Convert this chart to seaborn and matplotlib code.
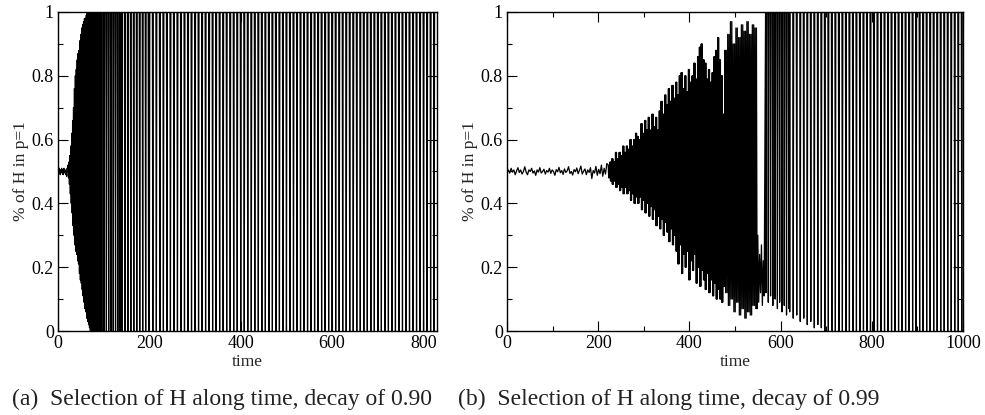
import numpy as np
import pandas as pd
import matplotlib
matplotlib.use('Agg')
import matplotlib.pyplot as plt
import seaborn as sns
from matplotlib.ticker import MultipleLocator, FuncFormatter

sns.set_theme(style='ticks')
plt.rcParams['font.family'] = ['Liberation Serif', 'DejaVu Serif']

# ---------------- panel (a): decay 0.90 ----------------
a_noise_t = np.arange(0, 22)
a_noise_v = [0.50, 0.505, 0.495, 0.51, 0.50, 0.49, 0.505, 0.50, 0.51, 0.495, 0.505,
             0.49, 0.50, 0.51, 0.50, 0.495, 0.505, 0.49, 0.50, 0.485, 0.51, 0.50]

# growing oscillation: peak at t, trough one step later
a_grow_t = np.arange(22, 70, 2)
a_grow_hi = [0.52, 0.53, 0.55, 0.58, 0.62, 0.66, 0.70, 0.76,
             0.80, 0.82, 0.85, 0.87, 0.88, 0.91, 0.93, 0.95,
             0.96, 0.97, 0.98, 0.98, 0.99, 1.00, 1.00, 1.00]
a_grow_lo = [0.48, 0.46, 0.43, 0.40, 0.37, 0.33, 0.30, 0.27,
             0.25, 0.24, 0.22, 0.21, 0.18, 0.16, 0.15, 0.13,
             0.11, 0.09, 0.07, 0.06, 0.04, 0.03, 0.02, 0.01]

a_dense_t = np.arange(70, 94, 2)
a_dense_hi = [1.0] * len(a_dense_t)
a_dense_lo = [0.0] * len(a_dense_t)

# regular full swings (drops from 1 to 0)
a_spike_t = np.r_[np.arange(96, 140, 5), np.arange(140, 200, 6.5), np.arange(200, 830, 7.7)]
a_spike_hi = [1.0] * len(a_spike_t)
a_spike_lo = [0.0] * len(a_spike_t)

# ---------------- panel (b): decay 0.99 ----------------
b_noise_t = np.arange(0, 222, 3)
b_noise_v = [0.500, 0.505, 0.495, 0.510, 0.498, 0.505, 0.490, 0.502, 0.512, 0.497,
             0.505, 0.492, 0.500, 0.515, 0.498, 0.490, 0.505, 0.500, 0.510, 0.495,
             0.502, 0.488, 0.505, 0.498, 0.512, 0.495, 0.500, 0.507, 0.492, 0.503,
             0.498, 0.510, 0.494, 0.505, 0.500, 0.488, 0.506, 0.499, 0.513, 0.496,
             0.503, 0.491, 0.508, 0.497, 0.502, 0.515, 0.494, 0.500, 0.489, 0.506,
             0.499, 0.511, 0.493, 0.504, 0.517, 0.492, 0.501, 0.508, 0.490, 0.505,
             0.497, 0.512, 0.478, 0.503, 0.495, 0.516, 0.488, 0.507, 0.493, 0.520,
             0.485, 0.510, 0.492, 0.525]

b_grow_t = np.arange(222, 478, 4)
b_grow_hi = [0.52, 0.53, 0.54, 0.53, 0.56, 0.54, 0.56, 0.55,
             0.58, 0.56, 0.58, 0.57, 0.60, 0.58, 0.60, 0.62,
             0.61, 0.60, 0.65, 0.62, 0.66, 0.63, 0.67, 0.63,
             0.68, 0.64, 0.67, 0.63, 0.69, 0.72, 0.68, 0.74,
             0.71, 0.76, 0.72, 0.77, 0.73, 0.78, 0.74, 0.80,
             0.81, 0.76, 0.80, 0.75, 0.82, 0.78, 0.80, 0.84,
             0.79, 0.86, 0.89, 0.90, 0.85, 0.84, 0.79, 0.82,
             0.78, 0.81, 0.86, 0.88, 0.92, 0.85, 0.80, 0.68]
b_grow_lo = [0.48, 0.47, 0.46, 0.47, 0.45, 0.46, 0.44, 0.45,
             0.43, 0.45, 0.43, 0.44, 0.41, 0.43, 0.40, 0.42,
             0.40, 0.42, 0.38, 0.41, 0.37, 0.40, 0.36, 0.39,
             0.35, 0.38, 0.33, 0.36, 0.32, 0.35, 0.30, 0.34,
             0.31, 0.28, 0.32, 0.27, 0.30, 0.25, 0.21, 0.27,
             0.18, 0.24, 0.20, 0.25, 0.16, 0.22, 0.19, 0.24,
             0.15, 0.20, 0.14, 0.19, 0.16, 0.13, 0.18, 0.12,
             0.16, 0.11, 0.15, 0.10, 0.13, 0.10, 0.09, 0.14]

b_burst_t = np.arange(478, 548, 6)
b_burst_hi = [0.88, 0.93, 0.97, 0.90, 0.95, 0.92, 0.96, 0.94, 0.97, 0.93, 0.96, 0.95]
b_burst_lo = [0.12, 0.08, 0.10, 0.06, 0.09, 0.05, 0.07, 0.04, 0.06, 0.05, 0.08, 0.07]

b_gap_t = np.arange(550, 566, 4)
b_gap_hi = [0.30, 0.24, 0.27, 0.22]
b_gap_lo = [0.09, 0.12, 0.08, 0.11]

b_spike_t = np.r_[np.arange(568, 620, 5), np.arange(620, 1000, 7.7)]
b_spike_hi = [1.0] * len(b_spike_t)
b_spike_lo = [0.12, 0.09, 0.11, 0.08, 0.10, 0.07, 0.09, 0.06, 0.08, 0.05, 0.07,
              0.06, 0.04, 0.05, 0.03, 0.04, 0.02, 0.03, 0.01, 0.02, 0.01] + [0.0] * 40

captions = ['(a)  Selection of H along time, decay of 0.90',
            '(b)  Selection of H along time, decay of 0.99']


def zigzag(t, hi, lo, half, reps=1):
    # each listed swing is drawn 'reps' times in a row (fast oscillation)
    tt, vv = [], []
    for ti, h, l in zip(t, hi, lo):
        for r in range(reps):
            start = ti + 2 * half * r
            tt += [start, start + half]
            vv += [h, l]
    return tt, vv


def spike_train(t, hi, lo):
    tt, vv = [], []
    for ti, h, l in zip(t, hi, lo):
        tt += [ti - 1, ti, ti + 1]
        vv += [h, l, h]
    return tt, vv


def frame(parts):
    tt, vv = [], []
    for t, v in parts:
        tt += list(t)
        vv += list(v)
    return pd.DataFrame({'time': tt, 'share': vv})


df_a = frame([(a_noise_t, a_noise_v),
              zigzag(a_grow_t, a_grow_hi, a_grow_lo, 1),
              zigzag(a_dense_t, a_dense_hi, a_dense_lo, 1),
              spike_train(a_spike_t, a_spike_hi, a_spike_lo)])
df_b = frame([(b_noise_t, b_noise_v),
              zigzag(b_grow_t, b_grow_hi, b_grow_lo, 1, reps=2),
              zigzag(b_burst_t, b_burst_hi, b_burst_lo, 1.5, reps=2),
              zigzag(b_gap_t, b_gap_hi, b_gap_lo, 2),
              spike_train(b_spike_t, b_spike_hi, b_spike_lo)])

fig = plt.figure(figsize=(9.85, 4.15), dpi=100)
ax_a = fig.add_axes([58 / 985, 84 / 415, 379 / 985, 319 / 415])
ax_b = fig.add_axes([507 / 985, 84 / 415, 456 / 985, 319 / 415])

for ax, df, xmax in [(ax_a, df_a, 830), (ax_b, df_b, 1000)]:
    sns.lineplot(data=df, x='time', y='share', ax=ax, color='black', lw=0.9,
                 estimator=None, sort=False)
    ax.set_xlim(0, xmax)
    ax.set_ylim(0, 1)
    ax.xaxis.set_major_locator(MultipleLocator(200))
    ax.xaxis.set_minor_locator(MultipleLocator(100))
    ax.yaxis.set_major_locator(MultipleLocator(0.2))
    ax.yaxis.set_minor_locator(MultipleLocator(0.1))
    ax.yaxis.set_major_formatter(FuncFormatter(lambda v, p: f'{v:g}'))
    ax.tick_params(which='both', direction='in', top=True, right=True,
                   labelsize=13, width=0.8, pad=3, colors='black')
    ax.tick_params(which='major', length=7)
    ax.tick_params(which='minor', length=3.5)
    for s in ax.spines.values():
        s.set_linewidth(1.0)
        s.set_color('black')
    ax.set_xlabel('time', fontsize=12.5, labelpad=1)
    ax.set_ylabel('% of H in p=1', fontsize=12.5, labelpad=2)

fig.text(12 / 985, 1 - 399 / 415, captions[0], fontsize=17, va='center', color='#222222')
fig.text(458 / 985, 1 - 399 / 415, captions[1], fontsize=17, va='center', color='#222222')

fig.savefig('out.png', dpi=100)
